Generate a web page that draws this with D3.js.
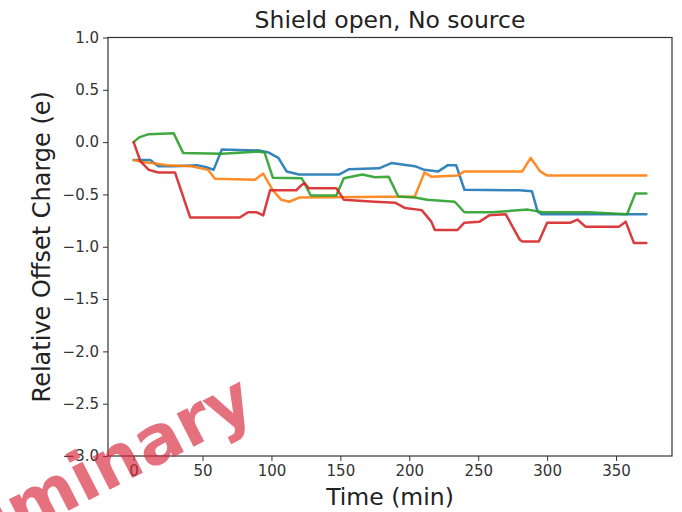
<!DOCTYPE html>
<html>
<head>
<meta charset="utf-8">
<script src="https://cdn.jsdelivr.net/npm/d3@7"></script>
<style>
  html, body { margin: 0; padding: 0; background: #fff; }
  svg { display: block; font-family: "DejaVu Sans", sans-serif; }
</style>
</head>
<body>
<svg id="chart" width="682" height="512"></svg>
<script>
// ---- data ----
const chartTitle = "Shield open, No source";
const xLabel = "Time (min)";
const yLabel = "Relative Offset Charge (e)";
const xTicks = [0, 50, 100, 150, 200, 250, 300, 350];
const yTicks = [1.0, 0.5, 0.0, -0.5, -1.0, -1.5, -2.0, -2.5, -3.0];
const watermarkText = "Preliminary";

const blueTime  = [0, 12, 18, 30, 46, 53, 58, 64, 91, 98, 105, 111, 120, 149, 156, 178, 187, 204, 211, 221, 228, 234, 240, 280, 289, 293, 296, 372];
const blueValue = [-0.17, -0.17, -0.23, -0.23, -0.22, -0.24, -0.265, -0.07, -0.08, -0.1, -0.15, -0.28, -0.31, -0.31, -0.26, -0.25, -0.2, -0.23, -0.265, -0.28, -0.22, -0.22, -0.455, -0.46, -0.47, -0.66, -0.69, -0.69];

const orangeTime  = [0, 6, 13, 24, 42, 54, 59, 88, 94, 101, 107, 113, 120, 204, 211, 216, 235, 240, 282, 288, 295, 300, 372];
const orangeValue = [-0.17, -0.19, -0.2, -0.22, -0.23, -0.265, -0.35, -0.36, -0.3, -0.46, -0.55, -0.57, -0.53, -0.52, -0.29, -0.33, -0.32, -0.28, -0.28, -0.15, -0.28, -0.32, -0.32];

const greenTime  = [0, 4, 11, 29, 36, 64, 90, 95, 101, 122, 128.5, 147, 152.5, 166, 175, 185, 192, 204, 213, 233, 240, 260, 286, 297, 330, 358, 364, 372];
const greenValue = [0, 0.045, 0.076, 0.086, -0.105, -0.11, -0.09, -0.1, -0.34, -0.345, -0.51, -0.51, -0.345, -0.31, -0.335, -0.33, -0.52, -0.53, -0.55, -0.57, -0.67, -0.67, -0.645, -0.67, -0.67, -0.69, -0.49, -0.49];

const redTime  = [0, 5, 11, 18, 30, 41, 77, 83, 89, 94, 99, 118, 121, 124, 127, 147, 152.5, 175, 190, 197, 209, 216, 218.5, 235, 240, 251, 258, 270, 280, 282, 294, 300, 317, 322, 328, 352, 357, 363, 372];
const redValue = [0, -0.185, -0.265, -0.29, -0.29, -0.72, -0.72, -0.67, -0.67, -0.70, -0.46, -0.46, -0.42, -0.39, -0.44, -0.44, -0.55, -0.57, -0.58, -0.63, -0.65, -0.76, -0.84, -0.84, -0.77, -0.76, -0.70, -0.69, -0.93, -0.95, -0.95, -0.77, -0.77, -0.74, -0.81, -0.81, -0.76, -0.965, -0.965];

const seriesNames  = ["blue", "orange", "green", "red"];
const seriesColors = ["#1f77b4", "#ff7f0e", "#2ca02c", "#d62728"];
const seriesTimes  = [blueTime, orangeTime, greenTime, redTime];
const seriesValues = [blueValue, orangeValue, greenValue, redValue];

// ---- layout ----
const W = 682, H = 512;
const margin = { left: 108, right: 10, top: 37.5, bottom: 56 };
const svg = d3.select("#chart");

const tMax = d3.max(seriesTimes, t => d3.max(t));
const pad = 0.05 * tMax;
const x = d3.scaleLinear().domain([-pad, tMax + pad]).range([margin.left, W - margin.right]);
const y = d3.scaleLinear().domain([-3, 1]).range([H - margin.bottom, margin.top]);

svg.append("rect").attr("width", W).attr("height", H).attr("fill", "#fff");

// lines
svg.append("clipPath").attr("id", "plotclip").append("rect")
  .attr("x", x.range()[0]).attr("y", y.range()[1])
  .attr("width", x.range()[1] - x.range()[0]).attr("height", y.range()[0] - y.range()[1]);

const line = d3.line().x(d => x(d[0])).y(d => y(d[1]));
const gLines = svg.append("g").attr("clip-path", "url(#plotclip)");
seriesNames.forEach((name, i) => {
  const pts = seriesTimes[i].map((t, j) => [t, seriesValues[i][j]]);
  gLines.append("path")
    .datum(pts)
    .attr("d", line)
    .attr("fill", "none")
    .attr("stroke", seriesColors[i])
    .attr("stroke-width", 2.5)
    .attr("stroke-linejoin", "round")
    .attr("stroke-linecap", "round")
    .attr("opacity", 0.9);
});

// axes
const fmtY = d3.format(".1f");
const xAxis = d3.axisBottom(x).tickValues(xTicks).tickSize(5).tickPadding(4).tickFormat(d3.format("d"));
const yAxis = d3.axisLeft(y).tickValues(yTicks).tickSize(5).tickPadding(4).tickFormat(fmtY);

const gx = svg.append("g").attr("transform", `translate(0,${y.range()[0]})`).call(xAxis);
const gy = svg.append("g").attr("transform", `translate(${x.range()[0]},0)`).call(yAxis);
[gx, gy].forEach(g => {
  g.select(".domain").remove();
  g.selectAll(".tick line").attr("stroke", "#333").attr("stroke-width", 1);
  g.selectAll(".tick text").attr("fill", "#333").style("font-size", "15px").style("font-family", "DejaVu Sans");
});

// spines
svg.append("rect")
  .attr("x", x.range()[0]).attr("y", y.range()[1])
  .attr("width", x.range()[1] - x.range()[0]).attr("height", y.range()[0] - y.range()[1])
  .attr("fill", "none").attr("stroke", "#333").attr("stroke-width", 1.2);

// title & labels
svg.append("text")
  .attr("x", (x.range()[0] + x.range()[1]) / 2).attr("y", 28)
  .attr("text-anchor", "middle").attr("fill", "#222")
  .style("font-size", "23.5px").text(chartTitle);

svg.append("text")
  .attr("x", (x.range()[0] + x.range()[1]) / 2).attr("y", 505)
  .attr("text-anchor", "middle").attr("fill", "#222")
  .style("font-size", "23.5px").text(xLabel);

svg.append("text")
  .attr("transform", `translate(50,${(y.range()[0] + y.range()[1]) / 2}) rotate(-90)`)
  .attr("text-anchor", "middle").attr("fill", "#222")
  .style("font-size", "24px").text(yLabel);

// watermark
svg.append("text")
  .attr("transform", "translate(258,414) rotate(-27)")
  .attr("text-anchor", "end")
  .attr("fill", "#d8283c").attr("opacity", 0.66)
  .style("font-family", "DejaVu Sans, sans-serif")
  .style("font-weight", "bold")
  .style("font-size", "68px")
  .text(watermarkText);
</script>
</body>
</html>
